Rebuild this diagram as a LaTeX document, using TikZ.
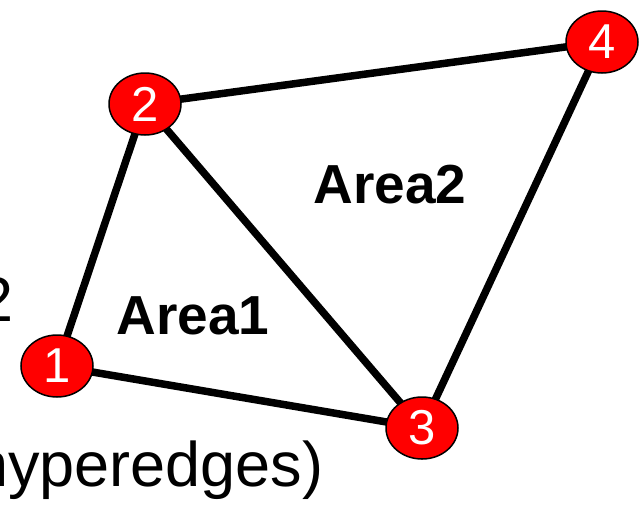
\documentclass[tikz,border=0pt]{standalone}
\usepackage{fontspec}
\setmainfont{Liberation Sans}
\usetikzlibrary{shapes.geometric,backgrounds}
\begin{document}
\begin{tikzpicture}[x=1pt,y=-1pt,
  vertex/.style={ellipse,draw=black,line width=1.5pt,fill=red,minimum width=72pt,minimum height=62pt,inner sep=0pt,
    text=white,font=\fontsize{49}{49}\selectfont},
  link/.style={line width=7.5pt},
  area/.style={font=\fontsize{55}{55}\selectfont\bfseries},
  plain/.style={font=\fontsize{63}{63}\selectfont,inner sep=0pt}]
\useasboundingbox (0,0) rectangle (639,504);
% vertices
\node[vertex] (v1) at (57,366) {1};
\node[vertex] (v2) at (145,104) {2};
\node[vertex] (v3) at (422,428) {3};
\node[vertex] (v4) at (602,42) {4};
% region labels and cut-off text
\node[area] (a1) at (193,316) {Area1};
\node[area] (a2) at (390,185) {Area2};
\node[plain,anchor=base west] (lbl) at (-27,486) {hyperedges)};
\node[plain,anchor=base east] (two) at (14,321) {2};
% edges behind the vertices
\begin{pgfonlayer}{background}
\draw[link] (v1.center) -- (v2.center);
\draw[link] (v1.center) -- (v3.center);
\draw[link] (v2.center) -- (v3.center);
\draw[link] (v2.center) -- (v4.center);
\draw[link] (v3.center) -- (v4.center);
\end{pgfonlayer}
\end{tikzpicture}
\end{document}
